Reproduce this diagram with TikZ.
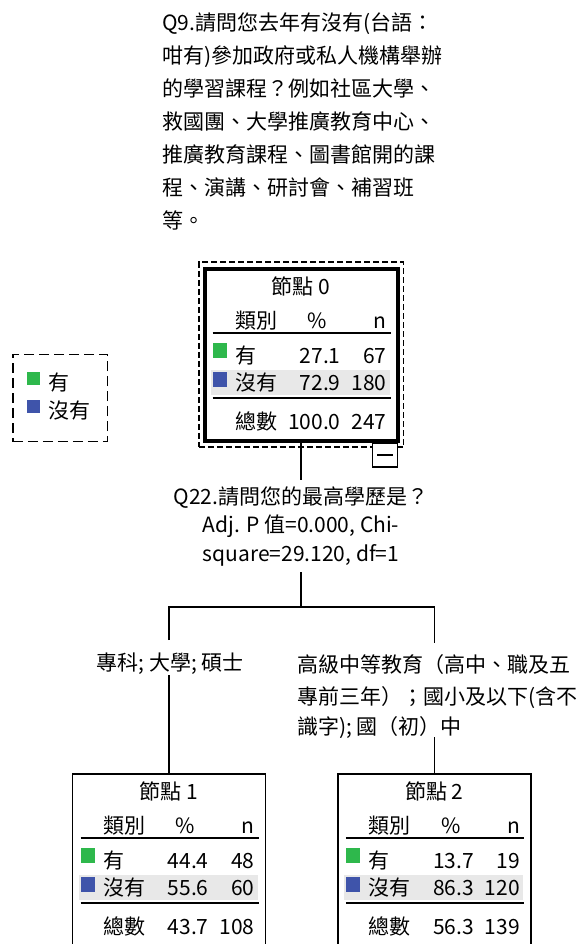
\documentclass[tikz,border=0pt]{standalone}
\usepackage{fontspec}
\setmainfont{Noto Sans CJK TC}
\definecolor{grn}{RGB}{46,184,76}
\definecolor{blu}{RGB}{63,84,170}
\definecolor{bandc}{RGB}{232,232,232}
\tikzset{
  txt/.style={inner sep=0pt, outer sep=0pt, text height=13.86pt, text depth=1.89pt,
              font=\fontsize{15.75pt}{18pt}\selectfont},
  conn/.style={line width=1.1pt, black},
  rulel/.style={line width=1.3pt, black},
  thickbox/.style={draw, line width=3pt, minimum width=144.75pt, minimum height=129pt, inner sep=0pt},
  thinbox/.style={draw, line width=1.1pt, minimum width=144.75pt, minimum height=162pt, inner sep=0pt},
  dashbox/.style={draw, line width=0.8pt, dash pattern=on 4.5pt off 2.25pt, inner sep=0pt},
  legbox/.style={draw, line width=1.2pt, dash pattern=on 7.5pt off 3.75pt, inner sep=0pt},
}
% #1 prefix, #2 title number, #3 p1, #4 n1, #5 p2, #6 n2, #7 pt, #8 nt
\newcommand\tabbody[8]{%
  \fill[bandc] (6,101) rectangle (185,126);
  \fill[grn] (8,74) rectangle (22,89);
  \fill[blu] (8,103) rectangle (22,118);
  \draw[rulel] (8,64) -- (186,64);
  \draw[rulel] (8,129) -- (186,129);
  \node[txt] (#1t) at (96.5,18) {節點 #2};
  \node[txt,anchor=west] (#1h) at (31,52) {類別};
  \node[txt] (#1hp) at (113,52) {\%};
  \node[txt,anchor=east] (#1hn) at (182,52) {n};
  \node[txt,anchor=west] (#1a) at (31,87) {有};
  \node[txt,anchor=east] (#1ap) at (136,87) {#3};
  \node[txt,anchor=east] (#1an) at (182,87) {#4};
  \node[txt,anchor=west] (#1b) at (31,114) {沒有};
  \node[txt,anchor=east] (#1bp) at (136,114) {#5};
  \node[txt,anchor=east] (#1bn) at (182,114) {#6};
  \node[txt,anchor=west] (#1c) at (31,153) {總數};
  \node[txt,anchor=east] (#1cp) at (136,153) {#7};
  \node[txt,anchor=east] (#1cn) at (182,153) {#8};
}
\begin{document}
\begin{tikzpicture}[x=0.75pt,y=-0.75pt]
\useasboundingbox (0,0) rectangle (584,944);
\clip (0,0) rectangle (584,944);
\fill[white] (0,0) rectangle (584,944);

% title
\node[txt,anchor=west] (t1) at (162,23) {Q9.請問您去年有沒有(台語：};
\node[txt,anchor=west] (t2) at (162,56) {咁有)參加政府或私人機構舉辦};
\node[txt,anchor=west] (t3) at (162,89) {的學習課程？例如社區大學、};
\node[txt,anchor=west] (t4) at (162,122) {救國團、大學推廣教育中心、};
\node[txt,anchor=west] (t5) at (162,155) {推廣教育課程、圖書館開的課};
\node[txt,anchor=west] (t6) at (162,188) {程、演講、研討會、補習班};
\node[txt,anchor=west] (t7) at (162,221) {等。};

% legend
\node[legbox, minimum width=70.9pt, minimum height=65.25pt] (leg) at (60.25,398) {};
\fill[grn] (27,372) rectangle (40,385);
\fill[blu] (27,400) rectangle (40,413);
\node[txt,anchor=west] (legA) at (48,383) {有};
\node[txt,anchor=west] (legB) at (48,411) {沒有};

% node 0
\node[dashbox, minimum width=153.4pt, minimum height=138.75pt] (n0d) at (301.25,354.5) {};
\node[thickbox] (n0) at (301,355) {};
\begin{scope}[shift={(204.5,269)}]
  \tabbody{z}{0}{27.1}{67}{72.9}{180}{100.0}{247}
\end{scope}
\node[draw, fill=white, line width=0.8pt, minimum width=18.4pt, minimum height=18pt, inner sep=0pt] (mb) at (385,455) {};
\draw[line width=1pt] ([xshift=-6pt]mb.center) -- ([xshift=6pt]mb.center);

% split label
\node[txt] (q1) at (301,497) {Q22.請問您的最高學歷是？};
\node[txt] (q2) at (301,525) {Adj. P 值=0.000, Chi-};
\node[txt] (q3) at (301,554) {square=29.120, df=1};

% connectors
\coordinate (s0) at (301,480);
\coordinate (s1) at (301,572);
\coordinate (j) at (301,607);
\coordinate (l1) at (169,640);
\coordinate (r1) at (434.4,643);
\coordinate (l2) at (169,675);
\coordinate (r2) at (434.4,737);
\draw[conn] (n0.south) -- (s0);
\draw[conn] (s1) -- (j);
\draw[conn] (l1) |- (j) -| (r1);

% branch labels
\node[txt] (bl) at (170,663) {專科; 大學; 碩士};
\node[txt,anchor=west] (br1) at (297,665) {高級中等教育（高中、職及五};
\node[txt,anchor=west] (br2) at (297,697) {專前三年）；國小及以下(含不};
\node[txt,anchor=west] (br3) at (297,727) {識字); 國（初）中};

% node 1
\node[thinbox] (n1) at (169,882) {};
\begin{scope}[shift={(72.5,774)}]
  \tabbody{a}{1}{44.4}{48}{55.6}{60}{43.7}{108}
\end{scope}
% node 2
\node[thinbox] (n2) at (434.4,882) {};
\begin{scope}[shift={(337.9,774)}]
  \tabbody{b}{2}{13.7}{19}{86.3}{120}{56.3}{139}
\end{scope}
\draw[conn] (l2) -- (n1.north);
\draw[conn] (r2) -- (n2.north);
\end{tikzpicture}
\end{document}
